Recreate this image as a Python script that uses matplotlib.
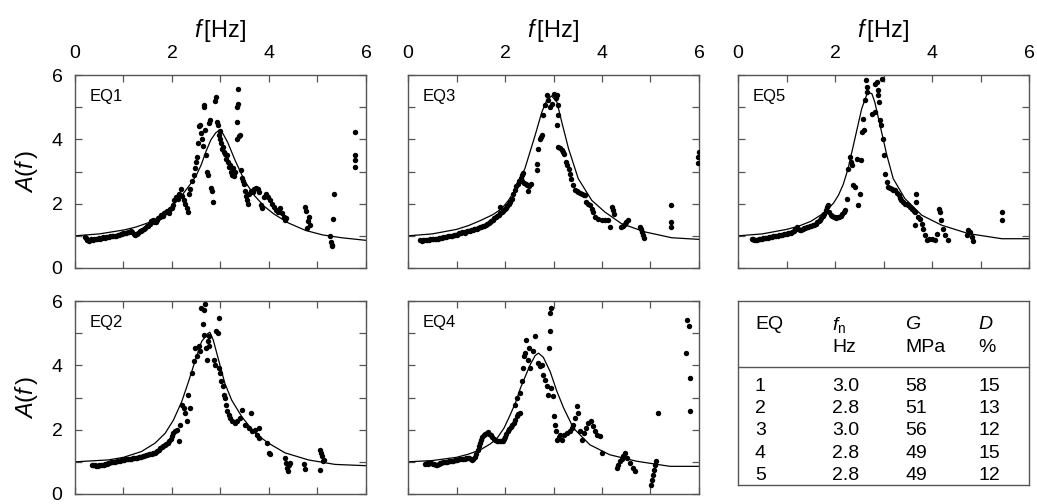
import numpy as np
import matplotlib
matplotlib.use("Agg")
import matplotlib.pyplot as plt

plt.rcParams["font.family"] = ["Liberation Sans", "DejaVu Sans"]
plt.rcParams["mathtext.fontset"] = "custom"
plt.rcParams["mathtext.rm"] = "Liberation Sans"
plt.rcParams["mathtext.it"] = "Liberation Sans:italic"

FRAME = "#555555"

# --- measured amplification A(f), pairs of (f [Hz], A) ---
eq1_pts = np.array([
    (0.20, 0.96), (0.23, 0.92), (0.25, 0.88), (0.27, 0.86), (0.29, 0.85), (0.31, 0.88), (0.34, 0.90),
    (0.37, 0.88), (0.40, 0.90), (0.43, 0.89), (0.46, 0.91), (0.49, 0.92), (0.52, 0.91), (0.55, 0.93),
    (0.58, 0.95), (0.61, 0.94), (0.64, 0.96), (0.67, 0.95), (0.70, 0.97), (0.73, 0.99), (0.76, 0.98),
    (0.79, 1.00), (0.82, 1.01), (0.85, 1.00), (0.88, 1.03), (0.91, 1.04), (0.94, 1.05), (0.97, 1.06),
    (1.00, 1.08), (1.03, 1.10), (1.06, 1.09), (1.09, 1.12), (1.12, 1.13), (1.15, 1.15), (1.18, 1.12),
    (1.21, 1.06), (1.24, 1.02), (1.27, 1.05), (1.30, 1.10), (1.33, 1.14), (1.36, 1.16), (1.39, 1.19),
    (1.42, 1.22), (1.45, 1.25), (1.48, 1.30), (1.51, 1.32), (1.54, 1.38), (1.57, 1.45), (1.60, 1.50),
    (1.63, 1.44), (1.66, 1.42), (1.69, 1.48), (1.72, 1.55), (1.75, 1.60), (1.78, 1.66), (1.81, 1.62),
    (1.84, 1.70), (1.87, 1.74), (1.90, 1.78), (1.93, 1.72), (1.96, 1.82), (1.99, 1.88), (2.02, 1.95),
    (2.05, 2.10), (2.08, 2.20), (2.12, 2.15), (2.15, 2.30), (2.18, 2.45), (2.20, 2.25), (2.24, 2.10),
    (2.27, 2.00), (2.30, 1.85), (2.32, 1.75), (2.35, 2.30), (2.38, 2.45), (2.42, 2.70), (2.45, 2.90),
    (2.48, 3.10), (2.50, 3.30), (2.52, 3.45), (2.54, 3.90), (2.56, 4.40), (2.58, 4.45), (2.60, 4.20),
    (2.62, 4.00), (2.63, 3.80), (2.65, 5.00), (2.66, 5.08), (2.68, 4.30), (2.70, 3.50), (2.72, 3.00),
    (2.74, 2.90), (2.76, 4.50), (2.78, 4.60), (2.80, 2.50), (2.82, 2.40), (2.84, 2.05), (2.88, 5.20),
    (2.91, 5.33), (2.93, 4.55), (2.94, 4.45), (2.96, 4.15), (2.98, 4.25), (3.00, 4.00), (3.02, 3.90),
    (3.04, 3.70), (3.06, 3.75), (3.08, 3.60), (3.10, 3.55), (3.12, 3.40), (3.14, 3.50), (3.16, 3.30),
    (3.18, 3.15), (3.20, 3.20), (3.22, 3.00), (3.24, 2.90), (3.26, 3.10), (3.28, 2.85), (3.30, 3.00),
    (3.33, 4.00), (3.34, 4.55), (3.35, 5.00), (3.36, 5.10), (3.37, 5.58), (3.38, 4.10), (3.40, 4.15),
    (3.42, 3.05), (3.44, 2.80), (3.46, 2.70), (3.48, 2.60), (3.50, 2.40), (3.52, 2.25), (3.54, 2.10),
    (3.56, 2.00), (3.58, 2.30), (3.62, 2.40), (3.66, 2.35), (3.70, 2.45), (3.74, 2.50), (3.78, 2.45),
    (3.80, 2.35), (3.84, 1.95), (3.86, 1.85), (3.90, 2.20), (3.94, 2.30), (3.98, 2.20), (4.02, 2.10),
    (4.06, 2.00), (4.10, 1.90), (4.14, 1.80), (4.18, 1.75), (4.22, 1.85), (4.26, 1.70), (4.30, 1.60),
    (4.34, 1.50), (4.36, 1.55), (4.75, 1.90), (4.76, 1.78), (4.80, 1.45), (4.82, 1.60), (4.79, 1.25),
    (4.84, 1.35), (5.26, 1.00), (5.28, 0.82), (5.29, 0.72), (5.30, 0.68), (5.31, 1.52), (5.33, 2.30),
    (5.77, 4.23), (5.77, 3.50), (5.78, 3.35), (5.77, 3.15),
])
eq1_fit_f = [0, 0.5, 1.0, 1.25, 1.5, 1.65, 1.8, 2.0, 2.2, 2.4, 2.5, 2.6, 2.7, 2.8, 2.9, 2.97, 3.05,
             3.15, 3.3, 3.5, 3.7, 3.9, 4.1, 4.4, 4.75, 5.1, 5.5, 6.0]
eq1_fit_a = [1.0, 1.06, 1.18, 1.27, 1.4, 1.51, 1.65, 1.92, 2.25, 2.65, 2.88, 3.2, 3.62, 3.98, 4.2,
             4.28, 4.18, 3.9, 3.35, 2.7, 2.25, 1.92, 1.68, 1.4, 1.17, 1.03, 0.94, 0.86]

eq2_pts = np.array([
    (0.35, 0.91), (0.38, 0.90), (0.41, 0.89), (0.44, 0.88), (0.47, 0.88), (0.50, 0.89), (0.53, 0.90),
    (0.56, 0.90), (0.59, 0.91), (0.62, 0.92), (0.65, 0.93), (0.68, 0.95), (0.71, 0.96), (0.74, 0.98),
    (0.77, 0.99), (0.80, 1.00), (0.83, 1.01), (0.86, 1.02), (0.89, 1.03), (0.92, 1.04), (0.95, 1.05),
    (0.98, 1.06), (1.01, 1.07), (1.04, 1.08), (1.07, 1.08), (1.10, 1.09), (1.13, 1.10), (1.16, 1.10),
    (1.19, 1.11), (1.22, 1.12), (1.25, 1.13), (1.28, 1.13), (1.31, 1.14), (1.34, 1.15), (1.37, 1.16),
    (1.40, 1.18), (1.43, 1.19), (1.46, 1.21), (1.49, 1.22), (1.52, 1.23), (1.55, 1.24), (1.58, 1.25),
    (1.61, 1.27), (1.64, 1.29), (1.67, 1.32), (1.70, 1.35), (1.73, 1.38), (1.76, 1.42), (1.79, 1.45),
    (1.82, 1.49), (1.85, 1.52), (1.88, 1.56), (1.91, 1.60), (1.94, 1.66), (1.97, 1.72), (2.00, 1.80),
    (2.03, 1.90), (2.06, 1.95), (2.10, 2.00), (2.14, 1.64), (2.17, 2.16), (2.21, 2.78), (2.24, 2.67),
    (2.27, 2.52), (2.31, 2.26), (2.34, 3.09), (2.38, 2.67), (2.41, 3.76), (2.45, 4.12), (2.48, 4.54),
    (2.52, 4.28), (2.55, 4.59), (2.58, 4.44), (2.60, 5.78), (2.63, 5.28), (2.65, 4.95), (2.67, 5.73),
    (2.69, 5.90), (2.70, 4.54), (2.72, 4.18), (2.74, 4.75), (2.76, 4.90), (2.77, 4.59), (2.86, 4.18),
    (2.89, 4.02), (2.91, 5.06), (2.96, 5.47), (2.95, 5.01), (2.96, 3.92), (3.00, 3.76), (3.02, 3.50),
    (3.05, 3.35), (3.07, 3.09), (3.10, 2.98), (3.12, 2.78), (3.13, 2.57), (3.17, 2.47), (3.20, 2.36),
    (3.24, 2.26), (3.29, 2.21), (3.34, 2.26), (3.41, 2.36), (3.44, 2.62), (3.51, 2.16), (3.58, 2.05),
    (3.62, 2.52), (3.65, 1.95), (3.71, 2.00), (3.75, 1.84), (3.79, 2.05), (3.80, 1.74), (3.96, 1.59),
    (3.99, 1.27), (4.03, 1.24), (4.34, 1.12), (4.35, 0.96), (4.37, 0.81), (4.39, 0.70), (4.42, 0.91),
    (4.44, 0.96), (4.72, 0.94), (4.74, 0.79), (5.06, 1.38), (5.07, 1.27), (5.09, 1.17), (5.11, 1.02),
    (5.06, 0.76), (5.14, 1.07),
])
eq2_fit_f = [0, 0.69, 1.0, 1.37, 1.65, 1.86, 2.03, 2.2, 2.34, 2.47, 2.61, 2.74, 2.78, 2.85, 2.96,
             3.09, 3.23, 3.44, 3.71, 3.99, 4.33, 4.81, 5.36, 6.0]
eq2_fit_a = [1.0, 1.06, 1.14, 1.32, 1.58, 1.89, 2.3, 2.87, 3.49, 4.11, 4.74, 4.99, 5.03, 4.79, 4.17,
             3.44, 2.92, 2.4, 1.89, 1.58, 1.28, 1.06, 0.92, 0.88]

eq3_pts = np.array([
    (0.25, 0.86), (0.28, 0.85), (0.31, 0.86), (0.34, 0.87), (0.37, 0.87), (0.40, 0.88), (0.43, 0.88),
    (0.46, 0.89), (0.49, 0.89), (0.52, 0.90), (0.55, 0.90), (0.58, 0.91), (0.61, 0.91), (0.64, 0.92),
    (0.67, 0.93), (0.70, 0.94), (0.73, 0.95), (0.76, 0.96), (0.79, 0.97), (0.82, 0.98), (0.85, 0.99),
    (0.88, 1.00), (0.91, 1.01), (0.94, 1.02), (0.97, 1.03), (1.00, 1.04), (1.03, 1.06), (1.06, 1.08),
    (1.09, 1.09), (1.12, 1.11), (1.15, 1.12), (1.18, 1.10), (1.21, 1.14), (1.24, 1.15), (1.27, 1.16),
    (1.30, 1.17), (1.33, 1.19), (1.36, 1.20), (1.39, 1.22), (1.42, 1.22), (1.45, 1.24), (1.48, 1.26),
    (1.51, 1.28), (1.54, 1.30), (1.57, 1.31), (1.60, 1.34), (1.63, 1.37), (1.66, 1.40), (1.69, 1.43),
    (1.72, 1.46), (1.75, 1.50), (1.78, 1.54), (1.81, 1.58), (1.84, 1.62), (1.87, 1.66), (1.90, 1.90),
    (1.90, 1.70), (1.93, 1.74), (1.96, 1.78), (1.99, 1.82), (2.02, 1.86), (2.05, 1.92), (2.08, 1.98),
    (2.11, 2.05), (2.14, 2.15), (2.17, 2.30), (2.20, 2.42), (2.23, 2.55), (2.26, 2.62), (2.29, 2.72),
    (2.32, 2.80), (2.35, 2.88), (2.38, 2.95), (2.36, 2.70), (2.40, 2.65), (2.43, 2.60), (2.46, 2.58),
    (2.48, 2.40), (2.50, 2.55), (2.53, 2.62), (2.65, 3.04), (2.67, 3.24), (2.69, 3.71), (2.72, 4.02),
    (2.74, 4.08), (2.76, 4.12), (2.79, 4.75), (2.82, 5.06), (2.86, 5.37), (2.89, 5.21), (2.93, 5.00),
    (2.96, 5.11), (3.02, 5.42), (3.05, 5.30), (3.07, 5.37), (3.09, 5.06), (3.10, 4.75), (3.07, 4.44),
    (3.10, 3.76), (3.13, 3.72), (3.17, 3.66), (3.20, 3.60), (3.22, 3.55), (3.25, 3.30), (3.28, 3.20),
    (3.31, 3.09), (3.34, 2.93), (3.37, 2.78), (3.41, 2.57), (3.44, 2.41), (3.48, 2.38), (3.51, 2.36),
    (3.55, 2.33), (3.58, 2.31), (3.62, 2.28), (3.65, 2.26), (3.68, 2.05), (3.72, 2.00), (3.75, 1.95),
    (3.79, 1.84), (3.82, 1.74), (3.86, 1.59), (3.92, 1.53), (3.99, 1.48), (4.06, 1.50), (4.13, 1.48),
    (4.16, 1.27), (4.20, 1.90), (4.22, 1.80), (4.25, 1.69), (4.40, 1.27), (4.44, 1.32), (4.47, 1.38),
    (4.50, 1.42), (4.54, 1.48), (4.78, 1.27), (4.80, 1.20), (4.82, 1.12), (4.85, 1.02), (4.87, 0.93),
    (5.42, 1.97), (5.42, 1.43), (5.42, 1.26), (5.99, 3.61), (5.97, 3.45), (5.97, 3.27),
])
eq3_fit_f = [0, 0.5, 1.0, 1.25, 1.5, 1.75, 1.93, 2.07, 2.2, 2.41, 2.62, 2.76, 2.86, 2.96, 3.07,
             3.17, 3.31, 3.51, 3.79, 4.06, 4.4, 4.89, 5.44, 6.0]
eq3_fit_a = [1.0, 1.06, 1.2, 1.32, 1.48, 1.66, 1.84, 2.1, 2.41, 3.09, 4.12, 4.85, 5.21, 5.35, 5.16,
             4.54, 3.71, 2.78, 2.1, 1.74, 1.38, 1.12, 0.94, 0.89]

eq4_pts = np.array([
    (0.36, 0.93), (0.39, 0.95), (0.42, 0.94), (0.45, 0.96), (0.48, 0.95), (0.51, 0.93), (0.54, 0.92),
    (0.57, 0.90), (0.60, 0.89), (0.63, 0.94), (0.66, 0.96), (0.69, 0.97), (0.72, 0.98), (0.75, 0.99),
    (0.78, 1.00), (0.81, 1.01), (0.84, 1.02), (0.87, 1.02), (0.90, 1.03), (0.93, 1.04), (0.96, 1.05),
    (0.99, 1.06), (1.02, 1.07), (1.05, 1.08), (1.08, 1.08), (1.11, 1.09), (1.14, 1.10), (1.17, 1.10),
    (1.20, 1.11), (1.23, 1.12), (1.26, 1.12), (1.29, 1.08), (1.32, 1.06), (1.35, 1.10), (1.38, 1.16),
    (1.41, 1.25), (1.44, 1.38), (1.46, 1.50), (1.48, 1.60), (1.50, 1.68), (1.53, 1.76), (1.56, 1.82),
    (1.59, 1.86), (1.62, 1.90), (1.65, 1.92), (1.68, 1.88), (1.71, 1.82), (1.74, 1.76), (1.77, 1.72),
    (1.80, 1.68), (1.83, 1.65), (1.86, 1.64), (1.89, 1.64), (1.92, 1.65), (1.95, 1.66), (1.98, 1.70),
    (2.01, 1.76), (2.03, 1.85), (2.06, 1.95), (2.09, 2.02), (2.12, 2.08), (2.15, 2.15), (2.18, 2.22),
    (2.21, 2.30), (2.24, 2.42), (2.27, 2.50), (2.30, 2.52), (2.21, 2.78), (2.25, 2.98), (2.30, 3.14),
    (2.35, 3.50), (2.37, 3.92), (2.40, 4.28), (2.42, 4.38), (2.44, 4.80), (2.47, 4.18), (2.49, 4.54),
    (2.52, 3.92), (2.58, 4.44), (2.62, 4.90), (2.69, 4.07), (2.73, 3.97), (2.76, 4.02), (2.79, 3.71),
    (2.83, 3.55), (2.86, 3.35), (2.88, 3.09), (2.90, 4.54), (2.93, 5.06), (2.93, 5.63), (2.95, 5.78),
    (2.95, 3.30), (2.99, 3.04), (3.00, 2.41), (3.03, 2.16), (3.05, 1.95), (3.08, 1.69), (3.11, 1.78),
    (3.14, 1.84), (3.17, 1.69), (3.21, 1.84), (3.27, 1.90), (3.34, 1.95), (3.38, 2.05), (3.41, 2.16),
    (3.45, 2.36), (3.48, 2.73), (3.51, 2.52), (3.55, 1.95), (3.58, 1.69), (3.62, 1.90), (3.67, 2.05),
    (3.72, 2.21), (3.77, 2.26), (3.81, 2.10), (3.86, 1.95), (3.90, 1.84), (3.96, 1.79), (3.99, 1.27),
    (4.30, 0.81), (4.34, 0.91), (4.38, 1.02), (4.41, 1.10), (4.44, 1.17), (4.47, 1.27), (4.52, 1.12),
    (4.58, 0.96), (4.63, 0.81), (4.68, 0.70), (5.02, 0.29), (5.04, 0.45), (5.05, 0.60), (5.08, 0.76),
    (5.10, 0.91), (5.12, 1.02), (5.16, 2.52), (5.75, 5.42), (5.79, 5.21), (5.74, 4.38), (5.81, 3.61),
    (5.81, 2.57),
])
eq4_fit_f = [0, 0.5, 1.0, 1.25, 1.5, 1.7, 1.84, 1.98, 2.11, 2.22, 2.32, 2.52, 2.62, 2.69, 2.79,
             2.93, 3.07, 3.21, 3.41, 3.75, 4.16, 4.71, 5.4, 6.0]
eq4_fit_a = [1.0, 1.04, 1.14, 1.24, 1.38, 1.56, 1.74, 2.05, 2.47, 2.85, 3.3, 4.02, 4.3, 4.38, 4.25,
             3.81, 3.19, 2.67, 2.05, 1.53, 1.22, 1.02, 0.86, 0.86]

eq5_pts = np.array([
    (0.28, 0.91), (0.31, 0.89), (0.34, 0.88), (0.37, 0.88), (0.40, 0.88), (0.43, 0.89), (0.46, 0.90),
    (0.49, 0.91), (0.52, 0.92), (0.55, 0.92), (0.58, 0.93), (0.61, 0.94), (0.64, 0.95), (0.67, 0.96),
    (0.70, 0.97), (0.73, 0.98), (0.76, 0.99), (0.79, 1.00), (0.82, 1.01), (0.85, 1.02), (0.88, 1.03),
    (0.91, 1.04), (0.94, 1.05), (0.97, 1.06), (1.00, 1.07), (1.03, 1.08), (1.06, 1.08), (1.09, 1.10),
    (1.12, 1.12), (1.15, 1.15), (1.18, 1.20), (1.21, 1.27), (1.24, 1.22), (1.27, 1.18), (1.30, 1.17),
    (1.33, 1.20), (1.36, 1.23), (1.39, 1.25), (1.42, 1.27), (1.45, 1.28), (1.48, 1.30), (1.51, 1.32),
    (1.54, 1.34), (1.57, 1.33), (1.60, 1.37), (1.63, 1.42), (1.66, 1.46), (1.69, 1.50), (1.72, 1.55),
    (1.75, 1.62), (1.78, 1.68), (1.81, 1.80), (1.84, 1.90), (1.86, 1.95), (1.88, 1.75), (1.91, 1.66),
    (1.94, 1.62), (1.97, 1.60), (2.00, 1.58), (2.03, 1.55), (2.06, 1.57), (2.09, 1.60), (2.12, 1.63),
    (2.15, 1.68), (2.18, 1.74), (2.21, 1.80), (2.24, 2.16), (2.27, 3.09), (2.31, 3.45), (2.34, 3.30),
    (2.36, 3.20), (2.38, 2.57), (2.41, 2.52), (2.45, 3.40), (2.48, 1.95), (2.52, 2.31), (2.54, 3.35),
    (2.55, 4.23), (2.57, 4.64), (2.60, 4.28), (2.62, 5.21), (2.65, 5.47), (2.64, 5.83), (2.67, 5.63),
    (2.76, 4.80), (2.82, 4.85), (2.82, 5.73), (2.86, 5.78), (2.88, 5.52), (2.89, 5.37), (2.91, 5.16),
    (2.93, 4.59), (2.96, 5.89), (2.95, 4.44), (2.98, 4.02), (3.00, 3.50), (3.03, 2.93), (3.07, 2.67),
    (3.10, 2.52), (3.14, 2.50), (3.17, 2.47), (3.20, 2.44), (3.24, 2.41), (3.27, 2.33), (3.31, 2.26),
    (3.34, 2.18), (3.37, 2.10), (3.41, 2.05), (3.44, 2.00), (3.48, 1.98), (3.51, 1.95), (3.55, 1.90),
    (3.58, 1.84), (3.62, 1.78), (3.65, 1.74), (3.68, 2.31), (3.68, 2.05), (3.65, 1.33), (3.72, 1.60),
    (3.75, 1.53), (3.79, 1.38), (3.82, 1.22), (3.86, 1.02), (3.89, 0.86), (3.94, 0.90), (3.99, 0.91),
    (4.06, 0.86), (4.10, 1.07), (4.15, 1.84), (4.16, 1.74), (4.19, 1.48), (4.23, 1.22), (4.27, 1.02),
    (4.32, 0.86), (4.72, 1.02), (4.75, 1.17), (4.78, 1.12), (4.82, 0.96), (4.85, 0.83), (5.44, 1.74),
    (5.44, 1.50),
])
eq5_fit_f = [0, 0.5, 1.0, 1.25, 1.5, 1.7, 1.86, 1.97, 2.07, 2.17, 2.27, 2.41, 2.55, 2.65, 2.69,
             2.76, 2.82, 2.96, 3.07, 3.2, 3.44, 3.79, 4.2, 4.75, 5.44, 6.0]
eq5_fit_a = [1.0, 1.06, 1.2, 1.3, 1.45, 1.64, 1.84, 2.02, 2.26, 2.6, 3.09, 4.02, 4.95, 5.37, 5.45,
             5.42, 5.16, 4.23, 3.5, 2.78, 2.16, 1.64, 1.33, 1.07, 0.91, 0.91]

# --- identified parameters ---
table_eq = ["1", "2", "3", "4", "5"]
table_fn = ["3.0", "2.8", "3.0", "2.8", "2.8"]
table_g = ["58", "51", "56", "49", "49"]
table_d = ["15", "13", "12", "15", "12"]

panels = [
    ("EQ1", eq1_pts, eq1_fit_f, eq1_fit_a, 0, 0),
    ("EQ3", eq3_pts, eq3_fit_f, eq3_fit_a, 0, 1),
    ("EQ5", eq5_pts, eq5_fit_f, eq5_fit_a, 0, 2),
    ("EQ2", eq2_pts, eq2_fit_f, eq2_fit_a, 1, 0),
    ("EQ4", eq4_pts, eq4_fit_f, eq4_fit_a, 1, 1),
]

W, H = 1037, 504
fig = plt.figure(figsize=(W / 100, H / 100), dpi=100)

col_left = [75, 408, 738]
row_top = [75, 301]
ax_w, ax_h = 291, 193


def frame(ax):
    for s in ax.spines.values():
        s.set_color(FRAME)
        s.set_linewidth(1.0)


for name, pts, fit_f, fit_a, r, c in panels:
    x0 = col_left[c]
    y0 = row_top[r]
    ax = fig.add_axes([x0 / W, 1 - (y0 + ax_h) / H, ax_w / W, ax_h / H])
    ax.plot(fit_f, fit_a, color="black", lw=0.9, zorder=2)
    ax.plot(pts[:, 0], pts[:, 1], "o", color="black", ms=3.9, mew=0, zorder=3)
    ax.set_xlim(0, 6)
    ax.set_ylim(0, 6)
    ax.set_xticks(range(7))
    ax.set_yticks(range(7))
    ax.tick_params(direction="in", length=5, width=0.9, color=FRAME,
                   top=True, right=True, labelsize=14, pad=9)
    ax.set_xticklabels(["0", "", "2", "", "4", "", "6"])
    ax.set_yticklabels(["0", "", "2", "", "4", "", "6"])
    if r == 0:
        ax.tick_params(labeltop=True, labelbottom=False)
        ax.set_xlabel(r"$f\,$[Hz]", fontsize=17, labelpad=6)
        ax.xaxis.set_label_position("top")
    else:
        ax.tick_params(labelbottom=False)
    if c == 0:
        ax.set_ylabel(r"$A(f\,)$", fontsize=17, labelpad=8)
    else:
        ax.tick_params(labelleft=False)
    ax.text(0.05, 0.89, name, transform=ax.transAxes, fontsize=12, va="center", ha="left")
    frame(ax)

# --- parameter table ---
tax = fig.add_axes([738 / W, 1 - 485 / H, 291 / W, 184 / H])
tax.set_xlim(0, 1)
tax.set_ylim(0, 1)
tax.set_xticks([])
tax.set_yticks([])
frame(tax)

cols = [0.058, 0.323, 0.574, 0.825]
fs = 14
tax.text(cols[0], 0.87, "EQ", fontsize=fs, va="center")
tax.text(cols[1], 0.87, r"$f_\mathrm{n}$", fontsize=fs, va="center")
tax.text(cols[2], 0.87, r"$G$", fontsize=fs, va="center")
tax.text(cols[3], 0.87, r"$D$", fontsize=fs, va="center")
tax.text(cols[1], 0.75, "Hz", fontsize=fs, va="center")
tax.text(cols[2], 0.75, "MPa", fontsize=fs, va="center")
tax.text(cols[3], 0.75, "%", fontsize=fs, va="center")
tax.axhline(0.641, color=FRAME, lw=1.0)

row_y = [0.538, 0.416, 0.294, 0.172, 0.05]
for i in range(len(table_eq)):
    for xc, val in zip(cols, [table_eq[i], table_fn[i], table_g[i], table_d[i]]):
        tax.text(xc, row_y[i], val, fontsize=fs, va="center")

fig.savefig("out.png", dpi=100)
